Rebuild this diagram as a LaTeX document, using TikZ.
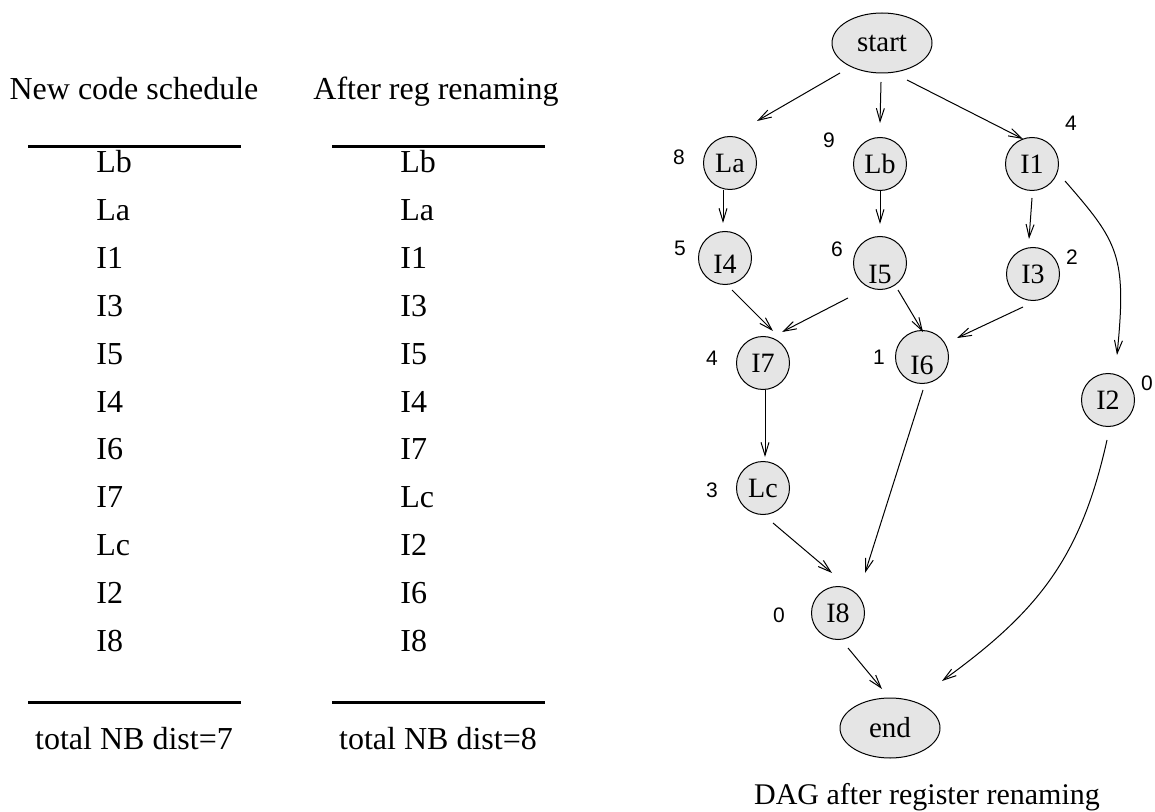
\documentclass[tikz,border=0pt]{standalone}
\usepackage{fontspec}
\setmainfont{Liberation Serif}
\newfontfamily\numfont{Liberation Sans}
\usetikzlibrary{arrows.meta,shapes.geometric,calc}

\begin{document}
\begin{tikzpicture}[x=0.5pt,y=-0.5pt,
  vertex/.style={circle,draw,fill=gray!20,line width=0.5pt,minimum size=26.5pt,
    inner sep=0.5pt,text height=9.3pt,text depth=0pt,font=\fontsize{14}{16}\selectfont},
  lowered/.style={text height=#1},
  terminal/.style={ellipse,draw,fill=gray!20,line width=0.5pt,minimum width=50pt,
    minimum height=30pt,inner sep=0pt,font=\fontsize{14.5}{17}\selectfont},
  prio/.style={inner sep=0pt,font=\numfont\fontsize{10.5}{12}\selectfont},
  dep/.style={line width=0.5pt,-{Straight Barb[length=6.5pt,width=4pt]}},
  headtext/.style={anchor=base,inner sep=0pt,font=\fontsize{16}{19}\selectfont},
  entry/.style={anchor=base west,inner sep=0pt,font=\fontsize{16}{19}\selectfont},
  tabrule/.style={line width=1.5pt}
]
\useasboundingbox (0,0) rectangle (1155,812);

% ---- schedule tables ----
\node[headtext] (h1) at (134,100) {New code schedule};
\node[headtext] (h2) at (436,100) {After reg renaming};
\draw[tabrule] (28,147) -- (241,147);
\draw[tabrule] (332,147) -- (545,147);
\foreach \t [count=\i] in {Lb,La,I1,I3,I5,I4,I6,I7,Lc,I2,I8}
  \node[entry] (l\i) at (96,125.2+47.8*\i) {\t};
\foreach \t [count=\i] in {Lb,La,I1,I3,I5,I4,I7,Lc,I2,I6,I8}
  \node[entry] (r\i) at (400,125.2+47.8*\i) {\t};
\draw[tabrule] (28,702) -- (241,702);
\draw[tabrule] (332,702) -- (545,702);
\node[headtext] (t1) at (134,749) {total NB dist=7};
\node[headtext] (t2) at (438,749) {total NB dist=8};

% ---- dependence DAG ----
\node[terminal] (start) at (882,43) {start};
\node[vertex] (La) at (730,163) {La};
\node[vertex] (Lb) at (880,164) {Lb};
\node[vertex] (I1) at (1032,164) {I1};
\node[vertex,lowered=15.3pt] (I4) at (725,258) {I4};
\node[vertex,lowered=20.3pt] (I5) at (880,263) {I5};
\node[vertex] (I3) at (1033,274) {I3};
\node[vertex] (I7) at (763,363) {I7};
\node[vertex,lowered=17.3pt] (I6) at (922,357) {I6};
\node[vertex] (I2) at (1108,400) {I2};
\node[vertex] (Lc) at (763,488) {Lc};
\node[vertex] (I8) at (838,613) {I8};
\node[terminal] (end) at (890,728) {end};

% priorities
\node[prio] (pLa) at (679,157) {8};
\node[prio] (pLb) at (829,140) {9};
\node[prio] (pI1) at (1071,123) {4};
\node[prio] (pI4) at (680,248) {5};
\node[prio] (pI5) at (837,249) {6};
\node[prio] (pI3) at (1072,257) {2};
\node[prio] (pI7) at (712,358) {4};
\node[prio] (pI6) at (879,357) {1};
\node[prio] (pI2) at (1147,383) {0};
\node[prio] (pLc) at (712,490) {3};
\node[prio] (pI8) at (779,615) {0};

% edges
\draw[dep] ($(start)+(-42,30)$) -- ($(La)+(27,-42)$);
\draw[dep] ($(start)+(-1,39)$) -- ($(Lb)+(0,-41)$);
\draw[dep] ($(start)+(25,37)$) -- ($(I1)+(-9,-25)$);
\draw[dep] ($(La)+(-7,27)$) -- ($(I4)+(-2,-35)$);
\draw[dep] ($(Lb)+(0,26)$) -- ($(I5)+(0,-39)$);
\draw[dep] ($(I1)+(0,34)$) -- ($(I3)+(-4,-35)$);
\draw[dep] ($(I1)+(33,17)$) .. controls ($(I1)+(86,78)$) and ($(I2)+(19,-145)$) .. ($(I2)+(9,-45)$);
\draw[dep] ($(I4)+(7,32)$) -- ($(I7)+(10,-32)$);
\draw[dep] ($(I5)+(-32,35)$) -- ($(I7)+(19,-31)$);
\draw[dep] ($(I5)+(18,27)$) -- ($(I6)+(1,-25)$);
\draw[dep] ($(I3)+(-10,33)$) -- ($(I6)+(35,-19)$);
\draw[dep] ($(I7)+(2,27)$) -- ($(Lc)+(2,-31)$);
\draw[dep] ($(I6)+(1,33)$) -- ($(I8)+(27,-40)$);
\draw[dep] ($(Lc)+(10,35)$) -- ($(I8)+(-6,-40)$);
\draw[dep] ($(I8)+(10,35)$) -- ($(end)+(-8,-39)$);
\draw[dep] ($(I2)+(-1,40)$) .. controls ($(I2)+(-27,157)$) and ($(end)+(149,-117)$) .. ($(end)+(52,-47)$);

\node[headtext,font=\fontsize{15}{18}\selectfont] (cap) at (927,804) {DAG after register renaming};
\end{tikzpicture}
\end{document}
